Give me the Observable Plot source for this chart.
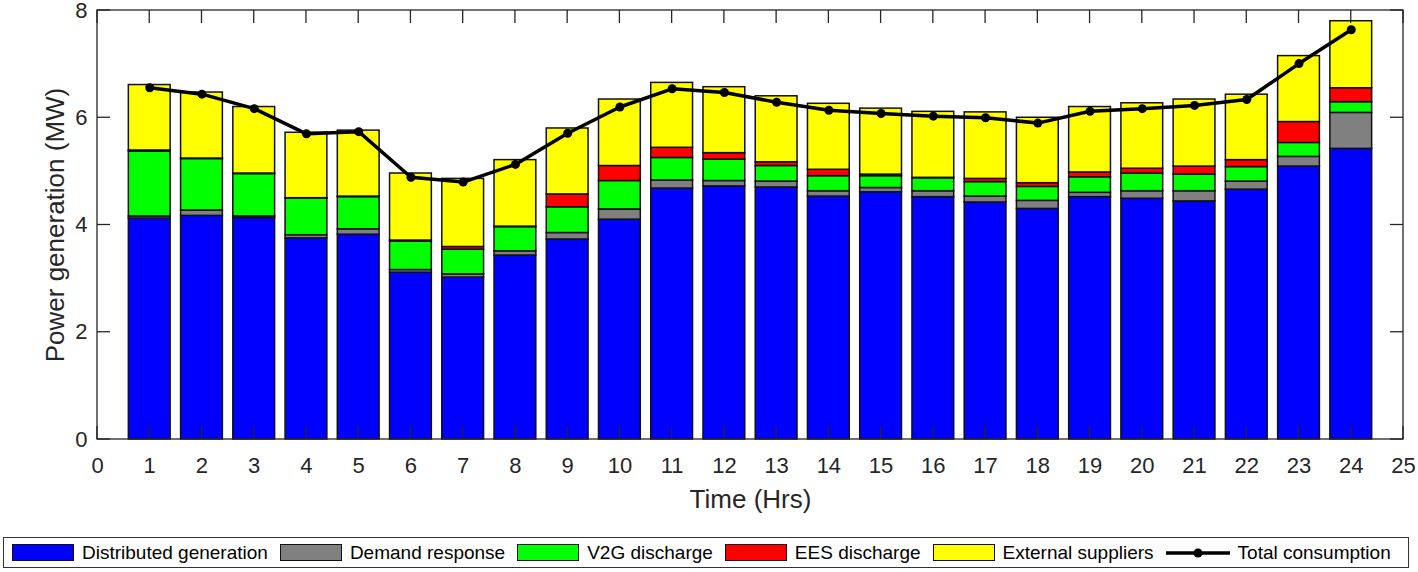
<!DOCTYPE html>
<html><head><meta charset="utf-8">
<script src="https://cdn.jsdelivr.net/npm/d3@7"></script>
<script src="https://cdn.jsdelivr.net/npm/@observablehq/plot@0.6"></script>
<style>
body{margin:0;background:#fff;font-family:"Liberation Sans",Arial,sans-serif;color:#000;}
#chart svg{display:block;}
#legend{position:relative;margin:17px 0 0 3px;width:1406px;height:31px;border:1.5px solid #333;box-sizing:border-box;display:flex;align-items:center;padding-left:8px;font-size:19px;white-space:nowrap;}
.item{display:flex;align-items:center;margin-right:12px;}
.sw{display:inline-block;width:62px;height:17px;border:1.5px solid #111;margin-right:8px;box-sizing:border-box;}
.ln{display:inline-block;width:64px;height:18px;margin-right:8px;}
</style></head><body>
<div id="chart"></div>
<div id="legend"></div>
<script>
const hours = [1,2,3,4,5,6,7,8,9,10,11,12,13,14,15,16,17,18,19,20,21,22,23,24];
const distributedGeneration = [4.12,4.17,4.13,3.75,3.82,3.11,3.02,3.43,3.73,4.10,4.68,4.72,4.70,4.53,4.61,4.52,4.42,4.30,4.52,4.49,4.44,4.66,5.09,5.42];
const demandResponse        = [0.04,0.10,0.03,0.06,0.10,0.05,0.06,0.08,0.12,0.19,0.15,0.10,0.11,0.10,0.08,0.11,0.11,0.15,0.08,0.14,0.19,0.15,0.18,0.67];
const v2gDischarge          = [1.21,0.96,0.79,0.68,0.60,0.53,0.46,0.45,0.48,0.53,0.42,0.40,0.29,0.28,0.22,0.24,0.27,0.26,0.29,0.33,0.31,0.27,0.26,0.20];
const eesDischarge          = [0.02,0.01,0.01,0.01,0.01,0.02,0.05,0.01,0.24,0.28,0.19,0.12,0.07,0.12,0.03,0.01,0.06,0.07,0.09,0.09,0.15,0.13,0.39,0.26];
const externalSuppliers     = [1.22,1.23,1.24,1.22,1.23,1.25,1.27,1.24,1.23,1.24,1.21,1.23,1.23,1.23,1.23,1.23,1.24,1.22,1.22,1.22,1.25,1.22,1.23,1.25];
const totalConsumption      = [6.56,6.44,6.17,5.70,5.74,4.89,4.80,5.13,5.71,6.20,6.54,6.47,6.29,6.14,6.08,6.03,6.00,5.90,6.12,6.17,6.23,6.34,7.01,7.64];

const seriesNames = ["Distributed generation","Demand response","V2G discharge","EES discharge","External suppliers"];
const seriesValues = [distributedGeneration, demandResponse, v2gDischarge, eesDischarge, externalSuppliers];
const seriesColors = ["#0000ff","#808080","#00ff00","#ff0000","#ffff00"];
const lineName = "Total consumption";
const xTicks = d3.range(0, 26);
const yTicks = [0, 2, 4, 6, 8];
const xLabel = "Time (Hrs)";
const yLabel = "Power generation (MW)";

const barHalf = 0.4;
const stacked = [];
hours.forEach((h, i) => {
  seriesNames.forEach((s, j) => {
    stacked.push({hour: h, series: s, value: seriesValues[j][i]});
  });
});
const lineData = hours.map((h, i) => ({hour: h, total: totalConsumption[i]}));

const axisColor = "#262626";
function innerTicks(index, {x, y}, values, dims) {
  const g = d3.create("svg:g").attr("stroke", axisColor).attr("stroke-width", 1.3).attr("fill", "none");
  const L = dims.marginLeft, R = dims.width - dims.marginRight, T = dims.marginTop, B = dims.height - dims.marginBottom;
  const len = 13;
  g.append("rect").attr("x", L).attr("y", T).attr("width", R - L).attr("height", B - T);
  for (const t of xTicks) {
    const px = x(t);
    g.append("line").attr("x1", px).attr("x2", px).attr("y1", B).attr("y2", B - len);
    g.append("line").attr("x1", px).attr("x2", px).attr("y1", T).attr("y2", T + len);
  }
  for (const t of yTicks) {
    const py = y(t);
    g.append("line").attr("x1", L).attr("x2", L + len).attr("y1", py).attr("y2", py);
    g.append("line").attr("x1", R).attr("x2", R - len).attr("y1", py).attr("y2", py);
  }
  return g.node();
}

const chart = Plot.plot({
  width: 1418,
  height: 520,
  marginTop: 10,
  marginBottom: 81,
  marginLeft: 97,
  marginRight: 15,
  style: {fontFamily: "'Liberation Sans', Arial, sans-serif", fontSize: "22px", color: axisColor, background: "#fff", overflow: "visible"},
  x: {type: "linear", domain: [0, 25], ticks: xTicks, tickFormat: d3.format("d"), tickSize: 0, tickPadding: 18, label: null},
  y: {domain: [0, 8], ticks: yTicks, tickSize: 0, tickPadding: 10, label: null},
  color: {domain: seriesNames, range: seriesColors},
  marks: [
    Plot.rectY(stacked, Plot.stackY({
      x1: d => d.hour - barHalf,
      x2: d => d.hour + barHalf,
      y: "value",
      fill: "series",
      stroke: "#111",
      strokeWidth: 1.5
    })),
    Plot.line(lineData, {x: "hour", y: "total", stroke: "#000", strokeWidth: 3.5}),
    Plot.dot(lineData, {x: "hour", y: "total", fill: "#000", r: 4.5}),
    innerTicks,
    Plot.text([yLabel], {frameAnchor: "left", dx: -42, rotate: -90, textAnchor: "middle", lineAnchor: "middle", fontSize: 26, fill: axisColor}),
    Plot.text([xLabel], {frameAnchor: "bottom", dy: 60, textAnchor: "middle", lineAnchor: "middle", fontSize: 26, fill: axisColor})
  ]
});
document.getElementById("chart").appendChild(chart);

const legend = document.getElementById("legend");
seriesNames.forEach((s, j) => {
  const it = document.createElement("div");
  it.className = "item";
  const sw = document.createElement("span");
  sw.className = "sw";
  sw.style.background = seriesColors[j];
  it.appendChild(sw);
  it.appendChild(document.createTextNode(s));
  legend.appendChild(it);
});
const it = document.createElement("div");
it.className = "item";
it.innerHTML = `<svg class="ln" viewBox="0 0 64 18"><line x1="0" x2="64" y1="9" y2="9" stroke="#000" stroke-width="3.5"/><circle cx="32" cy="9" r="4.5" fill="#000"/></svg>`;
it.appendChild(document.createTextNode(lineName));
legend.appendChild(it);
</script>
</body></html>
